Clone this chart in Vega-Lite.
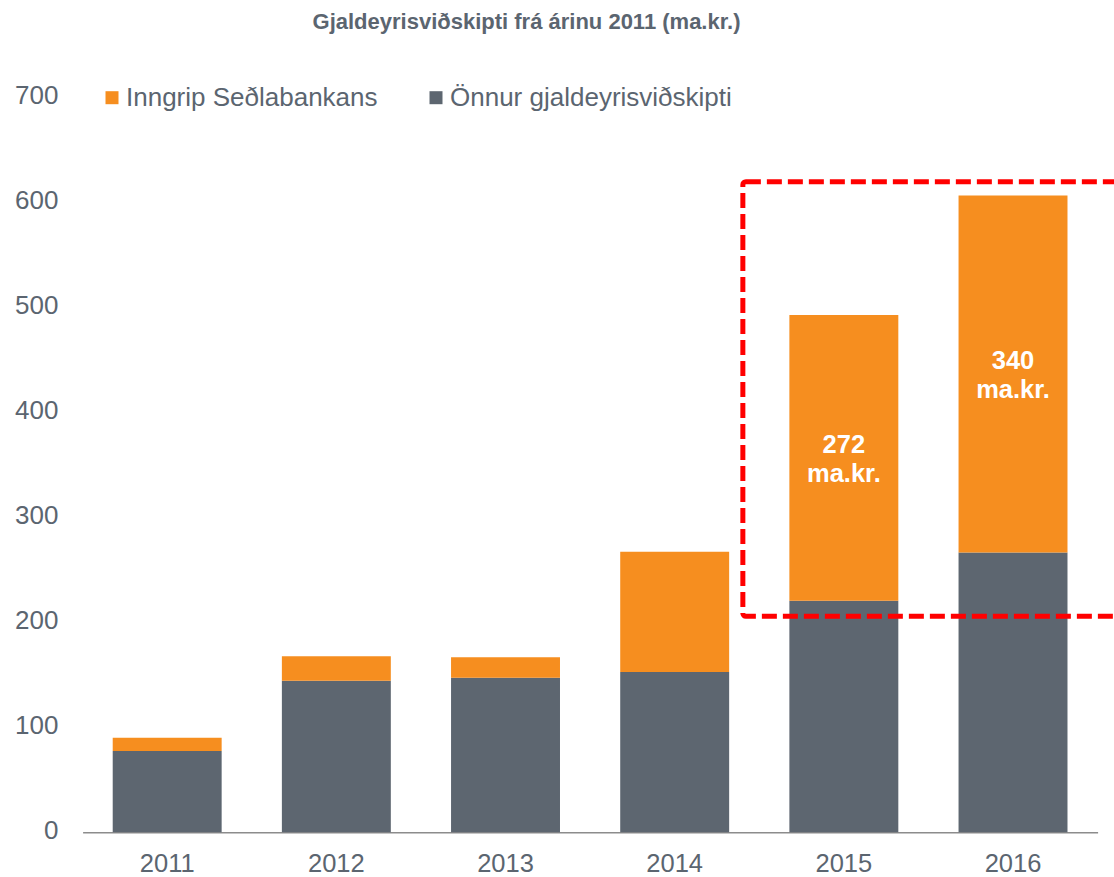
{
  "$schema": "https://vega.github.io/schema/vega-lite/v6.json",
  "width": 1015,
  "height": 735,
  "autosize": {"type": "none"},
  "padding": {"left": 82.6, "top": 97.3, "right": 16.4, "bottom": 44.7},
  "background": "white",
  "config": {"view": {"stroke": null}, "font": "Liberation Sans"},
  "title": {
    "text": "Gjaldeyrisviðskipti frá árinu 2011 (ma.kr.)",
    "font": "Liberation Sans",
    "fontSize": 22,
    "fontWeight": "bold",
    "color": "#5B6570",
    "anchor": "middle",
    "frame": "group",
    "dx": -63.6,
    "dy": -44
  },
  "data": {
    "values": [
      {"year": "2011", "series": "Önnur gjaldeyrisviðskipti", "value": 77.4},
      {"year": "2011", "series": "Inngrip Seðlabankans", "value": 12.7},
      {"year": "2012", "series": "Önnur gjaldeyrisviðskipti", "value": 144.4},
      {"year": "2012", "series": "Inngrip Seðlabankans", "value": 23.2},
      {"year": "2013", "series": "Önnur gjaldeyrisviðskipti", "value": 147.2},
      {"year": "2013", "series": "Inngrip Seðlabankans", "value": 19.5},
      {"year": "2014", "series": "Önnur gjaldeyrisviðskipti", "value": 152.7},
      {"year": "2014", "series": "Inngrip Seðlabankans", "value": 114.5},
      {"year": "2015", "series": "Önnur gjaldeyrisviðskipti", "value": 220.6},
      {"year": "2015", "series": "Inngrip Seðlabankans", "value": 272, "label": "272 ma.kr."},
      {"year": "2016", "series": "Önnur gjaldeyrisviðskipti", "value": 266.5},
      {"year": "2016", "series": "Inngrip Seðlabankans", "value": 340, "label": "340 ma.kr."}
    ]
  },
  "layer": [
    {
      "layer": [
        {
          "mark": {"type": "bar"},
          "encoding": {
            "x": {
              "field": "year",
              "type": "nominal",
              "scale": {"paddingInner": 0.356, "paddingOuter": 0.178},
              "axis": {
                "title": null,
                "labelAngle": 0,
                "ticks": false,
                "domainColor": "#8C8C8C",
                "domainWidth": 1.5,
                "labelFontSize": 25.5,
                "labelFont": "Liberation Sans",
                "labelColor": "#5B6570",
                "labelPadding": 19
              }
            },
            "y": {
              "field": "value",
              "type": "quantitative",
              "stack": "zero",
              "scale": {"domain": [0, 700], "nice": false},
              "axis": {
                "title": null,
                "values": [0, 100, 200, 300, 400, 500, 600, 700],
                "domain": false,
                "ticks": false,
                "grid": false,
                "labelFontSize": 26,
                "labelFont": "Liberation Sans",
                "labelColor": "#5B6570",
                "labelPadding": 24.6,
                "labelOffset": -2
              }
            },
            "color": {
              "field": "series",
              "type": "nominal",
              "scale": {
                "domain": ["Inngrip Seðlabankans", "Önnur gjaldeyrisviðskipti"],
                "range": ["#F68E1F", "#5D6670"]
              },
              "legend": {
                "orient": "none",
                "legendX": 16.4,
                "legendY": -12.6,
                "direction": "horizontal",
                "title": null,
                "padding": 0,
                "symbolType": "square",
                "symbolSize": 169,
                "symbolStrokeWidth": 0,
                "labelFontSize": 26,
                "labelFont": "Liberation Sans",
                "labelColor": "#5B6570",
                "labelLimit": 500,
                "labelOffset": 1,
                "columnPadding": 45
              }
            },
            "order": {"field": "series", "sort": "descending"}
          }
        },
        {
          "transform": [
            {"stack": "value", "groupby": ["year"], "sort": [{"field": "series", "order": "descending"}], "as": ["v0", "v1"]},
            {"filter": "isValid(datum.label)"},
            {"fold": ["v0", "v1"], "as": ["edge", "pos"]},
            {"aggregate": [{"op": "mean", "field": "pos", "as": "mid"}], "groupby": ["year", "label"]}
          ],
          "mark": {
            "type": "text",
            "font": "Liberation Sans",
            "fontSize": 25.5,
            "fontWeight": "bold",
            "color": "white",
            "lineBreak": " ",
            "lineHeight": 29,
            "align": "center",
            "baseline": "middle",
            "dy": -13
          },
          "encoding": {
            "x": {"field": "year", "type": "nominal"},
            "y": {"field": "mid", "type": "quantitative"},
            "text": {"field": "label"}
          }
        }
      ]
    },
    {
      "data": {"values": [{}]},
      "mark": {
        "type": "rect",
        "fill": "transparent",
        "stroke": "#FF0000",
        "strokeWidth": 5,
        "strokeDash": [15, 6],
        "cornerRadius": 3,
        "clip": false
      },
      "encoding": {
        "x": {"datum": 3.903, "type": "quantitative", "scale": {"domain": [0, 6], "nice": false, "zero": false}, "axis": null},
        "x2": {"datum": 6.15},
        "y": {"datum": 619.6, "type": "quantitative"},
        "y2": {"datum": 205.7}
      }
    }
  ],
  "resolve": {"scale": {"x": "independent"}}
}
